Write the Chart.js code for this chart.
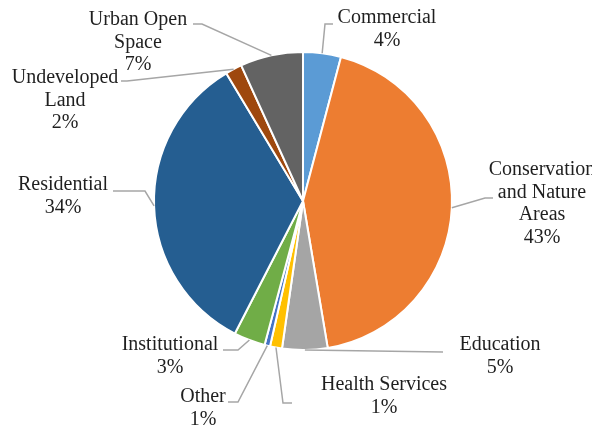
<!DOCTYPE html>
<html>
<head>
<meta charset="utf-8">
<script src="https://cdn.jsdelivr.net/npm/chart.js@4/dist/chart.umd.min.js"></script>
<style>
  html, body { margin: 0; padding: 0; background: #ffffff; }
  canvas { display: block; }
</style>
</head>
<body>
<canvas id="landuse" width="592" height="430"></canvas>
<script>
// land use shares, clockwise from 12 o'clock
const categories = ["Commercial", "Conservation and Nature Areas", "Education", "Health Services",
  "Other", "Institutional", "Residential", "Undeveloped Land", "Urban Open Space"];
const shares = [4.1, 43.2, 4.9, 1.3, 0.6, 3.4, 33.8, 1.8, 6.8];
const colours = ["#5B9BD5", "#ED7D31", "#A5A5A5", "#FFC000", "#4472C4", "#70AD47", "#255E91", "#9E480E", "#636363"];

// how each label wraps, and where its block and leader line sit
const labelLines = [
  ["Commercial"],
  ["Conservation", "and Nature", "Areas"],
  ["Education"],
  ["Health Services"],
  ["Other"],
  ["Institutional"],
  ["Residential"],
  ["Undeveloped", "Land"],
  ["Urban Open", "Space"]
];
const labelPos = [
  { x: 387, y: 18, elbow: [325, 24], end: [333, 24] },
  { x: 542, y: 170, elbow: [485, 198], end: [493, 198] },
  { x: 500, y: 345, elbow: [443, 352], end: [443, 352] },
  { x: 384, y: 385, elbow: [283, 403], end: [292, 403] },
  { x: 203, y: 397, elbow: [238, 402], end: [228, 402] },
  { x: 170, y: 345, elbow: [238, 350], end: [223, 350] },
  { x: 63, y: 185, elbow: [145, 191], end: [113, 191] },
  { x: 65, y: 78, elbow: [127, 81], end: [121, 81] },
  { x: 138, y: 20, elbow: [202, 24], end: [193, 24] }
];
const lineGap = 22.5;

const outsideLabels = {
  id: "outsideLabels",
  afterDatasetsDraw(chart) {
    const ctx = chart.ctx;
    const arcs = chart.getDatasetMeta(0).data;
    ctx.save();
    arcs.forEach((arc, i) => {
      const p = arc.getProps(["x", "y", "startAngle", "endAngle", "outerRadius"], true);
      const mid = (p.startAngle + p.endAngle) / 2;
      const sx = p.x + Math.cos(mid) * p.outerRadius;
      const sy = p.y + Math.sin(mid) * p.outerRadius;
      const lp = labelPos[i];

      ctx.strokeStyle = "#A6A6A6";
      ctx.lineWidth = 1.5;
      ctx.beginPath();
      ctx.moveTo(sx, sy);
      ctx.lineTo(lp.elbow[0], lp.elbow[1]);
      ctx.lineTo(lp.end[0], lp.end[1]);
      ctx.stroke();

      const lines = labelLines[i].concat([Math.round(shares[i]) + "%"]);
      ctx.fillStyle = "#1f1f1f";
      ctx.font = "20px 'Liberation Serif', 'Times New Roman', serif";
      ctx.textAlign = "center";
      ctx.textBaseline = "middle";
      lines.forEach((t, k) => ctx.fillText(t, lp.x, lp.y + k * lineGap));
    });
    ctx.restore();
  }
};

new Chart(document.getElementById("landuse"), {
  type: "pie",
  data: {
    labels: categories,
    datasets: [{
      data: shares,
      backgroundColor: colours,
      borderColor: "#ffffff",
      borderWidth: 2
    }]
  },
  options: {
    responsive: false,
    animation: false,
    devicePixelRatio: 1,
    layout: { padding: { top: 51, bottom: 79, left: 153, right: 139 } },
    plugins: {
      legend: { display: false },
      tooltip: { enabled: false }
    }
  },
  plugins: [outsideLabels]
});
</script>
</body>
</html>
